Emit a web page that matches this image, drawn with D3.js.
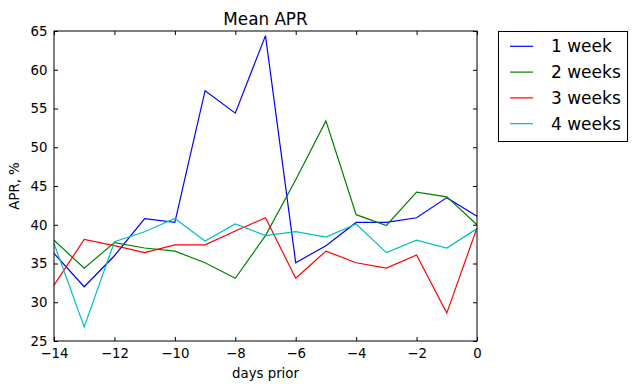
<!DOCTYPE html>
<html><head><meta charset="utf-8">
<script src="https://cdn.jsdelivr.net/npm/d3@7"></script>
<style>body{margin:0;background:#fff}text{font-family:"DejaVu Sans",sans-serif}</style>
</head><body><svg id="c" width="636" height="391"></svg>
<script>
const days = [-14,-13,-12,-11,-10,-9,-8,-7,-6,-5,-4,-3,-2,-1,0];
const week1 = [36.3,32.0,36.0,40.8,40.3,57.3,54.4,64.4,35.1,37.3,40.3,40.3,40.9,43.5,41.1];
const week2 = [38.0,34.4,37.7,37.0,36.6,35.1,33.1,38.6,45.8,53.4,41.3,39.9,44.2,43.6,40.0];
const week3 = [32.2,38.1,37.3,36.4,37.4,37.4,39.2,40.9,33.1,36.6,35.1,34.4,36.1,28.6,39.6];
const week4 = [37.6,26.8,37.8,39.1,40.8,37.9,40.1,38.6,39.1,38.4,40.1,36.4,38.0,37.0,39.5];
const seriesNames = ["1 week","2 weeks","3 weeks","4 weeks"];
const seriesColors = ["#0000ff","#008000","#ff0000","#00bfbf"];
const xTicks = [-14,-12,-10,-8,-6,-4,-2,0];
const yTicks = [25,30,35,40,45,50,55,60,65];
const allSeries = [week1,week2,week3,week4];

const svg = d3.select("#c");
const L=54,R=477,T=31,B=341;
const x = d3.scaleLinear().domain([-14,0]).range([L,R]);
const y = d3.scaleLinear().domain([25,65]).range([B,T]);
const fmt = d => d<0 ? "\u2212"+Math.abs(d) : String(d);

const g = svg.append("g");
const line = d3.line().x((d,i)=>x(days[i])).y(d=>y(d));
allSeries.forEach((s,k)=>{
  g.append("path").attr("d",line(s)).attr("fill","none")
   .attr("stroke",seriesColors[k]).attr("stroke-width",1.2);
});
g.append("rect").attr("x",L).attr("y",T).attr("width",R-L).attr("height",B-T)
 .attr("fill","none").attr("stroke","#000").attr("stroke-width",1);

const axB = d3.axisBottom(x).tickValues(xTicks).tickFormat(fmt).tickSizeInner(-4).tickSizeOuter(0).tickPadding(7.5);
const axT = d3.axisTop(x).tickValues(xTicks).tickFormat("").tickSizeInner(-4).tickSizeOuter(0);
const axL = d3.axisLeft(y).tickValues(yTicks).tickFormat(fmt).tickSizeInner(-4).tickSizeOuter(0).tickPadding(6.5);
const axR = d3.axisRight(y).tickValues(yTicks).tickFormat("").tickSizeInner(-4).tickSizeOuter(0);
function style(sel){sel.select(".domain").remove();sel.selectAll("line").attr("stroke","#000");
  sel.selectAll("text").attr("font-family","DejaVu Sans").attr("font-size",13.3).attr("fill","#000");}
g.append("g").attr("transform",`translate(0,${B})`).call(axB).call(style);
g.append("g").attr("transform",`translate(0,${T})`).call(axT).call(style);
g.append("g").attr("transform",`translate(${L},0)`).call(axL).call(style);
g.append("g").attr("transform",`translate(${R},0)`).call(axR).call(style);

svg.append("text").attr("x",(L+R)/2).attr("y",25).attr("text-anchor","middle")
  .attr("font-size",16.8).text("Mean APR");
svg.append("text").attr("x",(L+R)/2).attr("y",378).attr("text-anchor","middle")
  .attr("font-size",13.3).text("days prior");
svg.append("text").attr("transform",`translate(18.5,${(T+B)/2}) rotate(-90)`).attr("text-anchor","middle")
  .attr("font-size",13.3).text("APR, %");

const lg = svg.append("g");
lg.append("rect").attr("x",498.5).attr("y",31.5).attr("width",129).attr("height",110)
  .attr("fill","#fff").attr("stroke","#000");
seriesNames.forEach((n,k)=>{
  const yy = 46.3 + k*25.8;
  lg.append("line").attr("x1",510).attr("x2",533).attr("y1",yy).attr("y2",yy)
    .attr("stroke",seriesColors[k]).attr("stroke-width",1.2);
  lg.append("text").attr("x",551).attr("y",yy+6).attr("font-size",17).text(n);
});
</script></body></html>
